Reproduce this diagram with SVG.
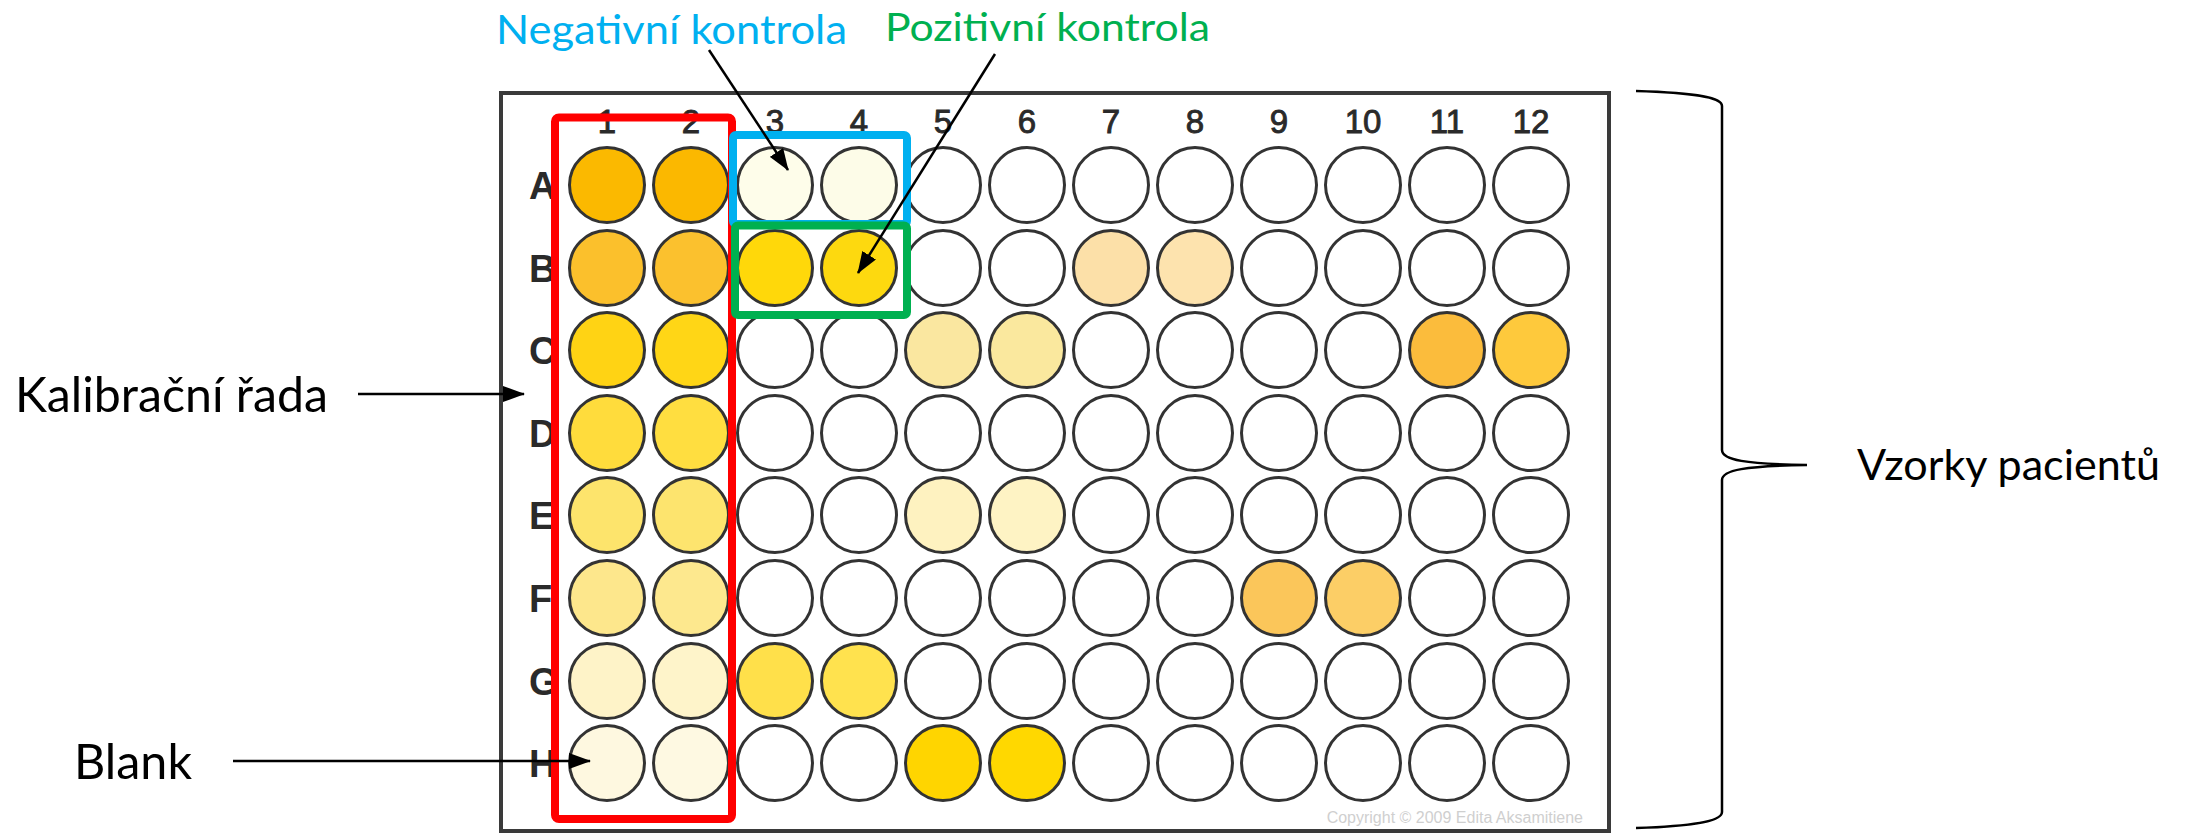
<svg xmlns="http://www.w3.org/2000/svg" width="2192" height="833" viewBox="0 0 2192 833">
<defs>
<style>
.lbl{font-family:Lato,"Open Sans",sans-serif;}
.hd{font-family:"Liberation Sans",Arial,sans-serif;font-weight:bold;fill:#2a2a2a;}
.num{font-family:"Liberation Sans",Arial,sans-serif;fill:#2a2a2a;stroke:#2a2a2a;stroke-width:0.9;}
.w{stroke:#333;stroke-width:3;fill:#fff;}
.ln{stroke:#000;stroke-width:2.5;fill:none;}
</style>
<marker id="ah" markerUnits="userSpaceOnUse" markerWidth="22" markerHeight="16" refX="21" refY="8" orient="auto">
<path d="M0,0 L22,8 L0,16 z" fill="#000"/>
</marker>
</defs>
<rect width="2192" height="833" fill="#fff"/>
<g id="plate">
<rect x="501" y="93" width="1108" height="738" fill="#fff" stroke="#3a3a3a" stroke-width="4"/>
<g class="num" font-size="33" text-anchor="middle">
<text x="607" y="133">1</text><text x="691" y="133">2</text><text x="775" y="133">3</text><text x="859" y="133">4</text>
<text x="943" y="133">5</text><text x="1027" y="133">6</text><text x="1111" y="133">7</text><text x="1195" y="133">8</text>
<text x="1279" y="133">9</text><text x="1363" y="133">10</text><text x="1447" y="133">11</text><text x="1531" y="133">12</text>
</g>
<g class="hd" font-size="38">
<text x="529" y="199">A</text><text x="529" y="282">B</text><text x="529" y="364">C</text><text x="529" y="447">D</text>
<text x="529" y="529">E</text><text x="529" y="612">F</text><text x="529" y="695">G</text><text x="529" y="777">H</text>
</g>
<text x="1583" y="823" text-anchor="end" font-family="Liberation Sans,Arial,sans-serif" font-size="16" fill="#cfcfcf">Copyright © 2009 Edita Aksamitiene</text>
</g>
<g id="wells">
<g id="rowA"><circle class="w" cx="607" cy="185" r="37.5" style="fill:#FBB900"/><circle class="w" cx="691" cy="185" r="37.5" style="fill:#FBB800"/><circle class="w" cx="775" cy="185" r="37.5" style="fill:#FEFDEA"/><circle class="w" cx="859" cy="185" r="37.5" style="fill:#FDFCE8"/><circle class="w" cx="943" cy="185" r="37.5"/><circle class="w" cx="1027" cy="185" r="37.5"/><circle class="w" cx="1111" cy="185" r="37.5"/><circle class="w" cx="1195" cy="185" r="37.5"/><circle class="w" cx="1279" cy="185" r="37.5"/><circle class="w" cx="1363" cy="185" r="37.5"/><circle class="w" cx="1447" cy="185" r="37.5"/><circle class="w" cx="1531" cy="185" r="37.5"/></g>
<g id="rowB"><circle class="w" cx="607" cy="268" r="37.5" style="fill:#FBC02C"/><circle class="w" cx="691" cy="268" r="37.5" style="fill:#FBC12E"/><circle class="w" cx="775" cy="268" r="37.5" style="fill:#FFD80A"/><circle class="w" cx="859" cy="268" r="37.5" style="fill:#FDD90F"/><circle class="w" cx="943" cy="268" r="37.5"/><circle class="w" cx="1027" cy="268" r="37.5"/><circle class="w" cx="1111" cy="268" r="37.5" style="fill:#FCE0A8"/><circle class="w" cx="1195" cy="268" r="37.5" style="fill:#FDE3AE"/><circle class="w" cx="1279" cy="268" r="37.5"/><circle class="w" cx="1363" cy="268" r="37.5"/><circle class="w" cx="1447" cy="268" r="37.5"/><circle class="w" cx="1531" cy="268" r="37.5"/></g>
<g id="rowC"><circle class="w" cx="607" cy="350" r="37.5" style="fill:#FFD314"/><circle class="w" cx="691" cy="350" r="37.5" style="fill:#FFD616"/><circle class="w" cx="775" cy="350" r="37.5"/><circle class="w" cx="859" cy="350" r="37.5"/><circle class="w" cx="943" cy="350" r="37.5" style="fill:#FAE7A0"/><circle class="w" cx="1027" cy="350" r="37.5" style="fill:#FAE89E"/><circle class="w" cx="1111" cy="350" r="37.5"/><circle class="w" cx="1195" cy="350" r="37.5"/><circle class="w" cx="1279" cy="350" r="37.5"/><circle class="w" cx="1363" cy="350" r="37.5"/><circle class="w" cx="1447" cy="350" r="37.5" style="fill:#FBBC3C"/><circle class="w" cx="1531" cy="350" r="37.5" style="fill:#FEC93C"/></g>
<g id="rowD"><circle class="w" cx="607" cy="433" r="37.5" style="fill:#FFDC3C"/><circle class="w" cx="691" cy="433" r="37.5" style="fill:#FFDE40"/><circle class="w" cx="775" cy="433" r="37.5"/><circle class="w" cx="859" cy="433" r="37.5"/><circle class="w" cx="943" cy="433" r="37.5"/><circle class="w" cx="1027" cy="433" r="37.5"/><circle class="w" cx="1111" cy="433" r="37.5"/><circle class="w" cx="1195" cy="433" r="37.5"/><circle class="w" cx="1279" cy="433" r="37.5"/><circle class="w" cx="1363" cy="433" r="37.5"/><circle class="w" cx="1447" cy="433" r="37.5"/><circle class="w" cx="1531" cy="433" r="37.5"/></g>
<g id="rowE"><circle class="w" cx="607" cy="515" r="37.5" style="fill:#FDE46C"/><circle class="w" cx="691" cy="515" r="37.5" style="fill:#FDE46E"/><circle class="w" cx="775" cy="515" r="37.5"/><circle class="w" cx="859" cy="515" r="37.5"/><circle class="w" cx="943" cy="515" r="37.5" style="fill:#FEF2C0"/><circle class="w" cx="1027" cy="515" r="37.5" style="fill:#FEF3C4"/><circle class="w" cx="1111" cy="515" r="37.5"/><circle class="w" cx="1195" cy="515" r="37.5"/><circle class="w" cx="1279" cy="515" r="37.5"/><circle class="w" cx="1363" cy="515" r="37.5"/><circle class="w" cx="1447" cy="515" r="37.5"/><circle class="w" cx="1531" cy="515" r="37.5"/></g>
<g id="rowF"><circle class="w" cx="607" cy="598" r="37.5" style="fill:#FDE78C"/><circle class="w" cx="691" cy="598" r="37.5" style="fill:#FDE88E"/><circle class="w" cx="775" cy="598" r="37.5"/><circle class="w" cx="859" cy="598" r="37.5"/><circle class="w" cx="943" cy="598" r="37.5"/><circle class="w" cx="1027" cy="598" r="37.5"/><circle class="w" cx="1111" cy="598" r="37.5"/><circle class="w" cx="1195" cy="598" r="37.5"/><circle class="w" cx="1279" cy="598" r="37.5" style="fill:#FBC65A"/><circle class="w" cx="1363" cy="598" r="37.5" style="fill:#FCCE66"/><circle class="w" cx="1447" cy="598" r="37.5"/><circle class="w" cx="1531" cy="598" r="37.5"/></g>
<g id="rowG"><circle class="w" cx="607" cy="681" r="37.5" style="fill:#FEF3C8"/><circle class="w" cx="691" cy="681" r="37.5" style="fill:#FEF4CA"/><circle class="w" cx="775" cy="681" r="37.5" style="fill:#FFE04A"/><circle class="w" cx="859" cy="681" r="37.5" style="fill:#FFE24E"/><circle class="w" cx="943" cy="681" r="37.5"/><circle class="w" cx="1027" cy="681" r="37.5"/><circle class="w" cx="1111" cy="681" r="37.5"/><circle class="w" cx="1195" cy="681" r="37.5"/><circle class="w" cx="1279" cy="681" r="37.5"/><circle class="w" cx="1363" cy="681" r="37.5"/><circle class="w" cx="1447" cy="681" r="37.5"/><circle class="w" cx="1531" cy="681" r="37.5"/></g>
<g id="rowH"><circle class="w" cx="607" cy="763" r="37.5" style="fill:#FEF8E0"/><circle class="w" cx="691" cy="763" r="37.5" style="fill:#FEF9E2"/><circle class="w" cx="775" cy="763" r="37.5"/><circle class="w" cx="859" cy="763" r="37.5"/><circle class="w" cx="943" cy="763" r="37.5" style="fill:#FFD500"/><circle class="w" cx="1027" cy="763" r="37.5" style="fill:#FFD800"/><circle class="w" cx="1111" cy="763" r="37.5"/><circle class="w" cx="1195" cy="763" r="37.5"/><circle class="w" cx="1279" cy="763" r="37.5"/><circle class="w" cx="1363" cy="763" r="37.5"/><circle class="w" cx="1447" cy="763" r="37.5"/><circle class="w" cx="1531" cy="763" r="37.5"/></g>
</g>
<g id="calibration-box"><rect x="555" y="117.5" width="177" height="701.5" rx="4" fill="none" stroke="#FF0000" stroke-width="8"/></g>
<g id="negative-box"><rect x="733" y="135" width="174" height="89" rx="3" fill="none" stroke="#00B0F0" stroke-width="8"/></g>
<g id="positive-box"><rect x="735" y="225.5" width="172" height="89.5" rx="3" fill="none" stroke="#00B050" stroke-width="8"/></g>
<g id="connectors">
<line class="ln" x1="709" y1="50" x2="788" y2="170" marker-end="url(#ah)"/>
<line class="ln" x1="995" y1="54" x2="858" y2="273" marker-end="url(#ah)"/>
<line class="ln" x1="358" y1="394" x2="524" y2="394" marker-end="url(#ah)"/>
<line class="ln" x1="233" y1="761" x2="590" y2="761" marker-end="url(#ah)"/>
<path class="ln" stroke-width="3" d="M1636,91 C1700,93 1722,98 1722,106 L1722,450 C1722,460 1745,464 1807,465 C1745,466 1722,470 1722,480 L1722,812 C1722,820 1700,826 1636,828"/>
</g>
<g id="label-negative"><text class="lbl" x="496" y="44" font-size="40" fill="#00B0F0" textLength="351" lengthAdjust="spacingAndGlyphs">Negativní kontrola</text></g>
<g id="label-positive"><text class="lbl" x="885" y="41" font-size="39" fill="#00B050" textLength="325" lengthAdjust="spacingAndGlyphs">Pozitivní kontrola</text></g>
<g id="label-calibration"><text class="lbl" x="15" y="412" font-size="49" fill="#000" textLength="313" lengthAdjust="spacingAndGlyphs">Kalibrační řada</text></g>
<g id="label-blank"><text class="lbl" x="74" y="779" font-size="49" fill="#000" textLength="118" lengthAdjust="spacingAndGlyphs">Blank</text></g>
<g id="label-samples"><text class="lbl" x="1857" y="480" font-size="43" fill="#000" textLength="303" lengthAdjust="spacingAndGlyphs">Vzorky pacientů</text></g>
</svg>
